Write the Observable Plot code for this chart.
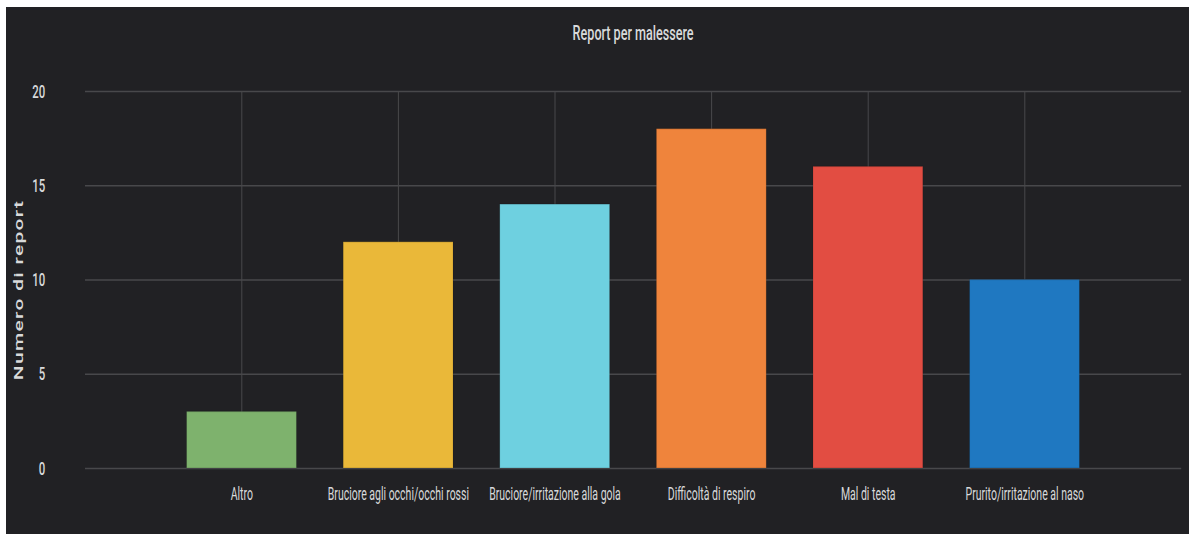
<!DOCTYPE html>
<html><head><meta charset="utf-8">
<script src="https://cdn.jsdelivr.net/npm/d3@7"></script>
<script src="https://cdn.jsdelivr.net/npm/@observablehq/plot@0.6"></script>
<style>
html,body{margin:0;padding:0;background:#fff;width:1189px;height:534px;overflow:hidden;}
#frame{position:absolute;left:6px;top:7px;width:1183px;height:527px;background:#212124;overflow:hidden;}
#inner{transform-origin:0 0;}
#title{font-family:Roboto,sans-serif;font-weight:500;font-size:21px;line-height:24px;color:#d8d9da;text-align:center;padding-top:14px;height:24px;box-sizing:content-box;}
svg{display:block;}
svg text{fill:#d8d9da;}
.ylab text{letter-spacing:1.3px;}
</style>
</head><body>
<div id="frame"><div id="inner"><div id="title"></div><div id="chart"></div></div></div>
<script>
const titleText = "Report per malessere";
const yLabel = "Numero di report";
const categories = ["Altro","Bruciore agli occhi/occhi rossi","Bruciore/irritazione alla gola","Difficoltà di respiro","Mal di testa","Prurito/irritazione al naso"];
const values = [3, 12, 14, 18, 16, 10];
const colors = ["#7EB26D","#EAB839","#6ED0E0","#EF843C","#E24D42","#1F78C1"];
const yTicks = [0, 5, 10, 15, 20];

const S = 0.6;               // horizontal squeeze of the original screenshot
const W = Math.round(1183 / S);
const mL = 79 / S, mR = 8 / S;

const inner = document.getElementById("inner");
inner.style.width = W + "px";
inner.style.transform = `scaleX(${S})`;
const t = document.getElementById("title");
t.textContent = titleText;
t.style.paddingLeft = mL + "px";
t.style.paddingRight = mR + "px";

const data = categories.map((c, i) => ({cat: c, val: values[i]}));

const chart = Plot.plot({
  width: W,
  height: 489,
  marginLeft: mL,
  marginRight: mR,
  marginTop: 46,
  marginBottom: 66,
  style: {background: "transparent", fontFamily: "Roboto, sans-serif", color: "#d8d9da"},
  x: {domain: categories, paddingInner: 0.3, paddingOuter: 0.65, label: null},
  y: {domain: [0, 20], ticks: yTicks, label: null},
  color: {domain: categories, range: colors},
  marks: [
    Plot.gridY(yTicks, {stroke: "#48484b", strokeOpacity: 1, strokeWidth: 1.5}),
    Plot.gridX({stroke: "#48484b", strokeOpacity: 1, strokeWidth: 1.7}),
    Plot.barY(data, {x: "cat", y: "val", fill: "cat", stroke: "#000", strokeOpacity: 0.12, strokeWidth: 1.5}),
    Plot.axisY(yTicks, {tickSize: 0, tickPadding: 66.7, fontSize: 19, fontWeight: 500, label: null}),
    Plot.axisX({tickSize: 0, tickPadding: 19, fontSize: 17.5, label: null}),
    Plot.text([yLabel], {frameAnchor: "left", textAnchor: "middle", rotate: -90, dx: -110, dy: 10, fontSize: 21, fontWeight: 500, fill: "#d8d9da", className: "ylab"})
  ]
});
document.getElementById("chart").appendChild(chart);
</script>
</body></html>
